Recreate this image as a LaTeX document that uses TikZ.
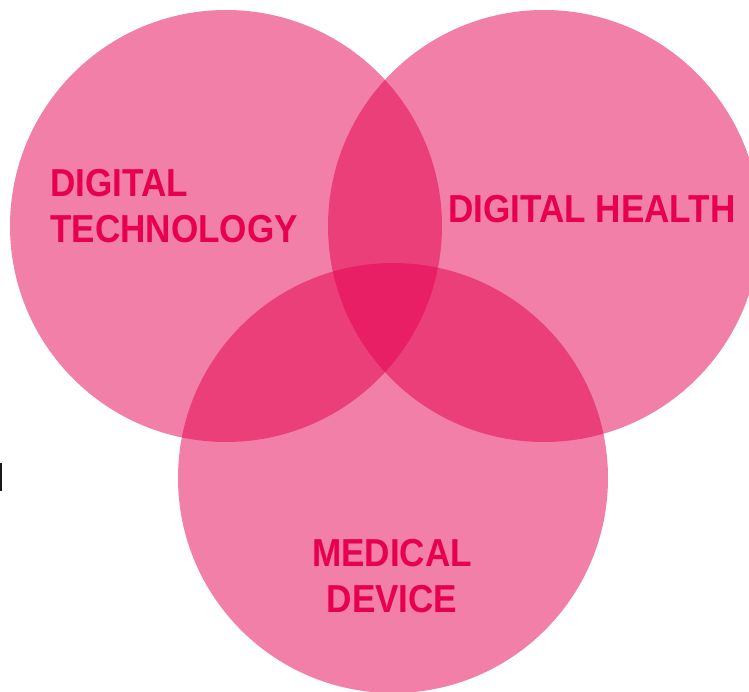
\documentclass[tikz,border=0pt]{standalone}
\usepackage{fontspec}
\newfontfamily\labelfont{Liberation Sans}[FakeStretch=0.9]
\definecolor{venn}{HTML}{E5004F}
\definecolor{vennlabel}{HTML}{E6004E}
\begin{document}
\begin{tikzpicture}[x=1pt,y=-1pt,
  setdisc/.style={fill=venn,fill opacity=0.5,draw=none},
  setlabel/.style={text=vennlabel,inner sep=0pt,
    font={\labelfont\bfseries\fontsize{39}{46}\selectfont}}]
  \useasboundingbox (0,0) rectangle (749,692);
  \begin{scope}
    \clip (0,0) rectangle (749,692);
    % the three overlapping sets
    \fill[setdisc] (226,226) circle[radius=216];
    \fill[setdisc] (544,226) circle[radius=216];
    \fill[setdisc] (393,478) circle[radius=215];
  \end{scope}
  % small dark mark at the left edge
  \fill[black!90] (0,463) rectangle (2,491);
  % set labels (multi-line nodes are anchored on their last baseline)
  \node[setlabel,anchor=base west,align=left] (tech) at (50,243) {DIGITAL\\TECHNOLOGY};
  \node[setlabel,anchor=base west] (health) at (448,223) {DIGITAL HEALTH};
  \node[setlabel,anchor=base,align=center] (device) at (392,612) {MEDICAL\\DEVICE};
\end{tikzpicture}
\end{document}
